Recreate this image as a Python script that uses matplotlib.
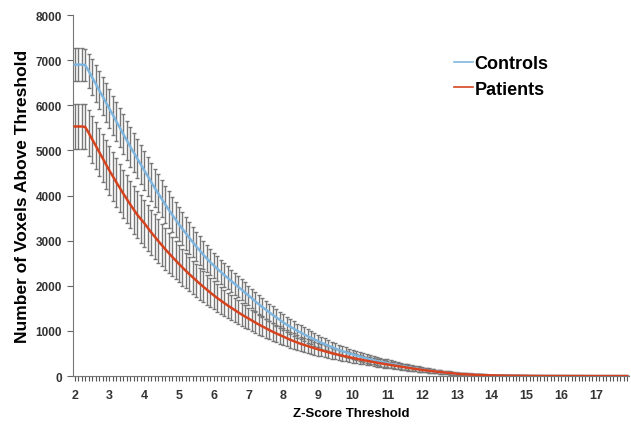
import numpy as np
import matplotlib.pyplot as plt

plt.rcParams['font.family'] = ['Liberation Sans', 'DejaVu Sans']
plt.rcParams['font.weight'] = 'bold'

# z-score thresholds 2.0 .. 17.9, one category every 0.1
z = np.round(np.arange(2.0, 18.0, 0.1), 1)

controls = [
    6900, 6900, 6900, 6890, 6760, 6620, 6480, 6340, 6200, 6060,
    5920, 5780, 5640, 5500, 5360, 5220, 5080, 4950, 4820, 4690,
    4560, 4430, 4300, 4170, 4050, 3930, 3810, 3690, 3580, 3470,
    3360, 3260, 3160, 3060, 2965, 2870, 2780, 2690, 2605, 2525,
    2450, 2380, 2310, 2240, 2175, 2110, 2045, 1980, 1915, 1850,
    1785, 1720, 1655, 1590, 1530, 1470, 1410, 1355, 1300, 1245,
    1190, 1140, 1095, 1050, 1005, 965, 925, 885, 845, 810,
    775, 740, 705, 672, 640, 610, 580, 552, 525, 502,
    480, 455, 432, 410, 390, 370, 350, 332, 315, 298,
    282, 266, 250, 235, 220, 206, 192, 179, 166, 154,
    142, 131, 120, 110, 100, 91, 83, 75, 68, 61,
    55, 49, 44, 39, 35, 31, 27, 24, 21, 18,
    16, 14, 12, 10, 9, 8, 7, 6, 5, 4,
    4, 3, 3, 3, 2, 2, 2, 2, 1, 1,
    1, 1, 1, 1, 1, 1, 1, 0, 0, 0,
    0, 0, 0, 0, 0, 0, 0, 0, 0, 0,
]
controls_err = [
    360, 360, 360, 360, 380, 400, 410, 420, 425, 430,
    430, 432, 434, 435, 436, 437, 438, 438, 438, 437,
    436, 434, 431, 427, 422, 416, 409, 401, 392, 385,
    378, 367, 356, 345, 335, 325, 317, 309, 301, 293,
    285, 278, 271, 264, 257, 250, 244, 238, 232, 226,
    220, 215, 210, 205, 200, 195, 191, 187, 183, 179,
    175, 171, 167, 163, 159, 155, 151, 147, 143, 139,
    135, 132, 129, 126, 123, 120, 117, 114, 111, 108,
    105, 103, 101, 99, 97, 95, 93, 91, 89, 87,
    85, 82, 79, 76, 73, 70, 67, 64, 61, 58,
    55, 52, 49, 46, 43, 40, 38, 36, 34, 32,
    30, 28, 26, 24, 22, 20, 19, 18, 17, 16,
    15, 14, 13, 12, 11, 10, 10, 9, 9, 8,
    8, 7, 7, 6, 6, 5, 5, 5, 4, 4,
    4, 4, 3, 3, 3, 3, 3, 2, 2, 2,
    2, 2, 2, 2, 2, 1, 1, 1, 1, 1,
]
patients = [
    5530, 5530, 5530, 5520, 5390, 5250, 5110, 4970, 4830, 4690,
    4550, 4420, 4290, 4165, 4040, 3920, 3800, 3685, 3575, 3480,
    3390, 3285, 3185, 3090, 2995, 2905, 2815, 2730, 2645, 2565,
    2485, 2405, 2330, 2255, 2185, 2115, 2045, 1980, 1915, 1850,
    1790, 1730, 1675, 1620, 1565, 1515, 1465, 1415, 1365, 1320,
    1275, 1230, 1185, 1140, 1100, 1060, 1020, 980, 945, 910,
    875, 840, 805, 775, 745, 715, 690, 665, 640, 615,
    592, 570, 548, 527, 507, 488, 469, 451, 434, 417,
    400, 384, 368, 353, 338, 324, 310, 296, 283, 270,
    258, 245, 232, 219, 206, 194, 182, 170, 158, 147,
    136, 126, 116, 107, 98, 90, 82, 75, 68, 62,
    50, 45, 40, 36, 32, 28, 25, 22, 19, 17,
    15, 13, 11, 10, 9, 8, 7, 6, 5, 4,
    4, 4, 3, 3, 3, 2, 2, 2, 2, 1,
    1, 1, 1, 1, 1, 1, 1, 0, 0, 0,
    0, 0, 0, 0, 0, 0, 0, 0, 0, 0,
]
patients_err = [
    500, 500, 500, 500, 510, 520, 530, 535, 540, 540,
    540, 539, 538, 537, 535, 533, 530, 527, 524, 522,
    520, 511, 502, 493, 484, 472, 460, 448, 436, 423,
    410, 400, 390, 380, 370, 360, 351, 342, 333, 324,
    315, 307, 299, 291, 283, 275, 268, 261, 254, 247,
    240, 234, 228, 222, 216, 210, 205, 200, 195, 190,
    185, 180, 175, 170, 165, 160, 156, 152, 148, 144,
    140, 136, 132, 128, 124, 120, 117, 114, 111, 108,
    105, 102, 99, 96, 93, 90, 88, 86, 84, 82,
    80, 77, 74, 71, 68, 65, 62, 59, 56, 53,
    50, 47, 44, 41, 38, 36, 34, 32, 30, 28,
    26, 24, 22, 21, 20, 18, 16, 15, 14, 13,
    12, 11, 10, 9, 9, 8, 8, 7, 7, 6,
    6, 5, 5, 5, 4, 4, 4, 3, 3, 3,
    3, 3, 2, 2, 2, 2, 2, 2, 2, 2,
    2, 2, 2, 1, 1, 1, 1, 1, 1, 1,
]

blue = '#7fb6e0'
red = '#d8431f'

fig = plt.figure(figsize=(6.31, 4.27), dpi=100)
ax = fig.add_axes([0.1157, 0.117, 0.881, 0.8455])

for vals, errs in [(controls, controls_err), (patients, patients_err)]:
    _, caps, stems = ax.errorbar(z, vals, yerr=errs, fmt='none', ecolor='#777777',
                                 elinewidth=1.0, capsize=1.7, capthick=1.0, zorder=2)
    for c in caps:
        c.set_color('#333333')
l1, = ax.plot(z, controls, color=blue, lw=1.8, zorder=3, label='Controls')
l2, = ax.plot(z, patients, color=red, lw=1.8, zorder=3, label='Patients')

ax.set_xlim(1.95, 17.95)
ax.set_ylim(0, 8000)
ax.set_xticks(range(2, 18))
ax.set_xticks(z, minor=True)
ax.set_yticks(range(0, 8001, 1000))
ax.tick_params(axis='x', which='both', length=3.5, width=0.8, color='#555555',
               labelsize=9, labelcolor='#333333', pad=6)
ax.tick_params(axis='y', length=4, width=0.8, color='#666666',
               labelsize=8.5, labelcolor='#333333', pad=4)
for lab in ax.get_xticklabels() + ax.get_yticklabels():
    lab.set_fontweight('bold')

for s in ['top', 'right']:
    ax.spines[s].set_visible(False)
ax.spines['left'].set_color('#777777')
ax.spines['bottom'].set_color('#777777')

ax.set_xlabel('Z-Score Threshold', fontsize=9.5, fontweight='bold', labelpad=4)
ax.set_ylabel('Number of Voxels Above Threshold', fontsize=12.5, fontweight='bold', labelpad=4)

leg = ax.legend(handles=[l1, l2], loc='upper left', bbox_to_anchor=(0.693, 0.906),
                bbox_transform=fig.transFigure, frameon=False, fontsize=13,
                handlelength=1.1, handletextpad=0.05, labelspacing=0.45)
for h in leg.get_lines():
    h.set_linewidth(1.2)

plt.savefig('out.png', dpi=100)
